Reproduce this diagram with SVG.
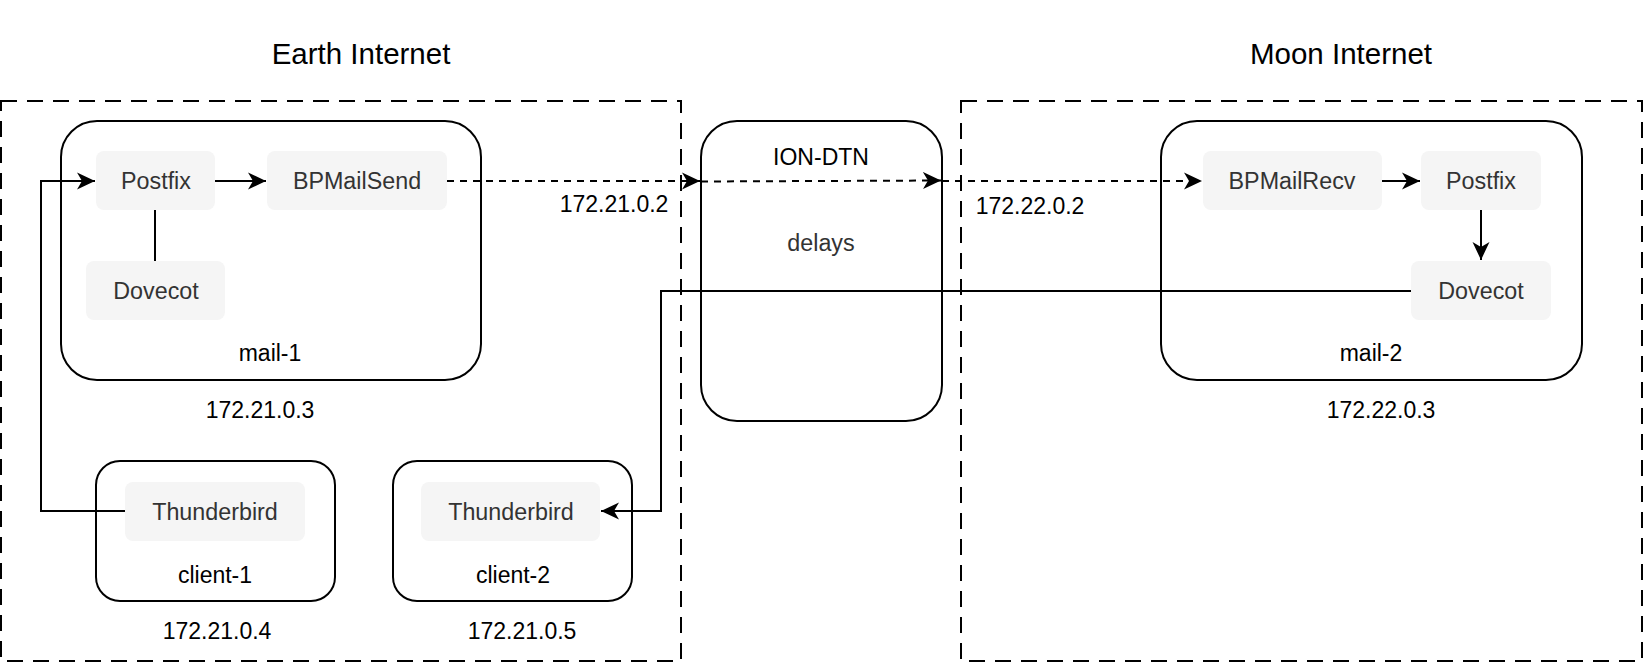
<svg xmlns="http://www.w3.org/2000/svg" width="1650" height="672" viewBox="0 0 1650 672">
<style>
text{font-family:"Liberation Sans",Arial,sans-serif;text-anchor:middle;dominant-baseline:central}
.title{font-size:29.5px;fill:#000}
.lbl{font-size:23px;fill:#000}
.svc{fill:#f5f5f5;stroke:none}
.svct{font-size:23.3px;fill:#333}
.node{fill:#fff;stroke:#000;stroke-width:2}
.zone{fill:none;stroke:#000;stroke-width:2;stroke-dasharray:16 10}
.edge{fill:none;stroke:#000;stroke-width:2}
.dash{stroke-dasharray:7 6}
</style>
<defs>
<marker id="arr" markerUnits="userSpaceOnUse" markerWidth="19" markerHeight="19" refX="18" refY="9" orient="auto">
<path d="M0,0.5 L18,9 L0,17.5 L5,9 Z" fill="#000"/>
</marker>
</defs>
<rect width="1650" height="672" fill="#fff"/>
<g id="earth">
<rect class="zone" x="1" y="101" width="680" height="560"/>
<text class="title" x="361" y="53">Earth Internet</text>
</g>
<g id="moon">
<rect class="zone" x="961" y="101" width="681" height="560"/>
<text class="title" x="1341" y="53">Moon Internet</text>
</g>
<g id="mail-1">
<rect class="node" x="61" y="121" width="420" height="259" rx="36"/>
<text class="lbl" x="270" y="353">mail-1</text>
<text class="lbl" x="260" y="410">172.21.0.3</text>
</g>
<g id="postfix-1"><rect class="svc" x="96" y="151" width="119" height="59" rx="8"/><text class="svct" x="156" y="181">Postfix</text></g>
<g id="bpmailsend"><rect class="svc" x="267" y="151" width="180" height="59" rx="8"/><text class="svct" x="357" y="181">BPMailSend</text></g>
<g id="dovecot-1"><rect class="svc" x="86" y="261" width="139" height="59" rx="8"/><text class="svct" x="156" y="291">Dovecot</text></g>
<g id="ion-dtn">
<rect class="node" x="701" y="121" width="241" height="300" rx="36"/>
<text class="lbl" x="821" y="157">ION-DTN</text>
<text class="svct" x="821" y="243">delays</text>
</g>
<g id="mail-2">
<rect class="node" x="1161" y="121" width="421" height="259" rx="36"/>
<text class="lbl" x="1371" y="353">mail-2</text>
<text class="lbl" x="1381" y="410">172.22.0.3</text>
</g>
<g id="bpmailrecv"><rect class="svc" x="1203" y="151" width="179" height="59" rx="8"/><text class="svct" x="1292" y="181">BPMailRecv</text></g>
<g id="postfix-2"><rect class="svc" x="1421" y="151" width="120" height="59" rx="8"/><text class="svct" x="1481" y="181">Postfix</text></g>
<g id="dovecot-2"><rect class="svc" x="1411" y="261" width="140" height="59" rx="8"/><text class="svct" x="1481" y="291">Dovecot</text></g>
<g id="client-1">
<rect class="node" x="96" y="461" width="239" height="140" rx="24"/>
<rect class="svc" x="125" y="482" width="180" height="59" rx="8"/>
<text class="svct" x="215" y="512">Thunderbird</text>
<text class="lbl" x="215" y="575">client-1</text>
<text class="lbl" x="217" y="631">172.21.0.4</text>
</g>
<g id="client-2">
<rect class="node" x="393" y="461" width="239" height="140" rx="24"/>
<rect class="svc" x="421" y="482" width="179" height="59" rx="8"/>
<text class="svct" x="511" y="512">Thunderbird</text>
<text class="lbl" x="513" y="575">client-2</text>
<text class="lbl" x="522" y="631">172.21.0.5</text>
</g>
<g id="connectors">
<path class="edge" d="M215,181 L266,181" marker-end="url(#arr)"/>
<path class="edge" d="M155,210 L155,261"/>
<path class="edge dash" d="M447,181 L700,181" marker-end="url(#arr)"/>
<path class="edge dash" d="M701,181.5 L941,180.5" marker-end="url(#arr)"/>
<path class="edge dash" d="M942,181 L1202,181" marker-end="url(#arr)"/>
<path class="edge" d="M1382,181 L1420,181" marker-end="url(#arr)"/>
<path class="edge" d="M1481,210 L1481,260" marker-end="url(#arr)"/>
<path class="edge" d="M1411,291 L661,291 L661,511 L601,511" marker-end="url(#arr)"/>
<path class="edge" d="M125,511 L41,511 L41,181 L95,181" marker-end="url(#arr)"/>
<text class="lbl" x="614" y="204">172.21.0.2</text>
<text class="lbl" x="1030" y="206">172.22.0.2</text>
</g>
</svg>
